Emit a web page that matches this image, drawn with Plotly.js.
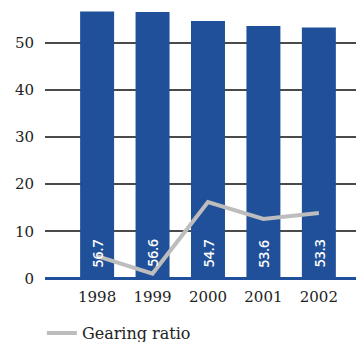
<!DOCTYPE html>
<html>
<head>
<meta charset="utf-8">
<script src="https://cdn.plot.ly/plotly-3.0.1.min.js"></script>
<style>
html,body{margin:0;padding:0;background:#fff;}
#chart{width:356px;height:342px;}
</style>
</head>
<body>
<div id="chart"></div>
<script>
const years = ['1998', '1999', '2000', '2001', '2002'];
const barValues = [56.7, 56.6, 54.7, 53.6, 53.3];
const gearingRatio = [4.7, 1.0, 16.2, 12.6, 13.9];
const yTicks = [0, 10, 20, 30, 40, 50];
const lineName = 'Gearing ratio';

const serif = 'DejaVu Serif, Liberation Serif, serif';

const bars = {
  type: 'bar',
  x: years,
  y: barValues,
  marker: {color: '#21509A', line: {width: 0}},
  showlegend: false,
  hoverinfo: 'skip'
};

const line = {
  type: 'scatter',
  mode: 'lines',
  x: years,
  y: gearingRatio,
  name: lineName,
  line: {color: '#BDBDBD', width: 4},
  hoverinfo: 'skip'
};

// bar value labels, placed by category index on the category axis
const barLabels = barValues.map((v, i) => ({
  x: i,
  y: 0,
  xref: 'x',
  yref: 'y',
  text: v.toFixed(1),
  showarrow: false,
  textangle: -90,
  xanchor: 'center',
  yanchor: 'bottom',
  yshift: 9,
  font: {family: 'Open Sans, DejaVu Sans, sans-serif', size: 14, color: '#ffffff', weight: 600}
}));

const layout = {
  width: 356,
  height: 342,
  margin: {l: 45, r: 0, t: 0, b: 59, autoexpand: false},
  paper_bgcolor: '#ffffff',
  plot_bgcolor: '#ffffff',
  bargap: 0.387,
  font: {family: serif, size: 15, color: '#222222'},
  xaxis: {
    type: 'category',
    range: [-0.94, 4.67],
    showgrid: false,
    zeroline: false,
    showline: false,
    ticks: '',
    ticklabelstandoff: 3,
    tickfont: {family: serif, size: 15, color: '#222222'}
  },
  yaxis: {
    range: [-1, 59.15],
    tickvals: yTicks,
    ticktext: yTicks.map(String),
    showgrid: true,
    gridcolor: '#4a4a4a',
    gridwidth: 2,
    zeroline: true,
    zerolinecolor: '#21509A',
    zerolinewidth: 3,
    showline: false,
    ticks: '',
    ticklabelstandoff: 10,
    tickfont: {family: serif, size: 15, color: '#222222'}
  },
  annotations: barLabels,
  showlegend: true,
  legend: {
    orientation: 'h',
    x: -0.01,
    xanchor: 'left',
    y: -0.117,
    yanchor: 'top',
    font: {family: serif, size: 16, color: '#222222'},
    bgcolor: 'rgba(0,0,0,0)'
  }
};

Plotly.newPlot('chart', [bars, line], layout, {displayModeBar: false, staticPlot: true});
</script>
</body>
</html>
